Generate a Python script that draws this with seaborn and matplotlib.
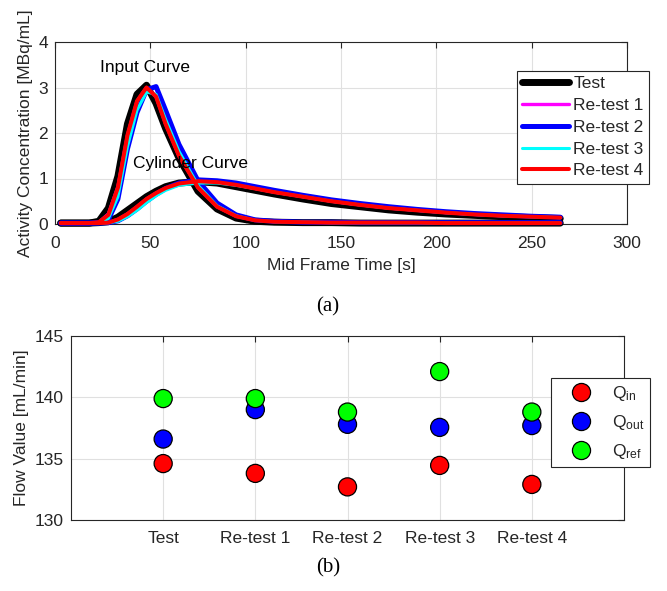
import numpy as np
import pandas as pd
import matplotlib
matplotlib.use("Agg")
import matplotlib.pyplot as plt
import seaborn as sns

# ---------------- data ----------------
time_s = [3, 8, 13, 18, 23, 28, 33, 38, 43, 48, 53, 58, 65, 75, 85, 95, 105, 115,
          130, 145, 160, 175, 190, 205, 220, 235, 250, 265]

series_names = ["Test", "Re-test 1", "Re-test 2", "Re-test 3", "Re-test 4"]

input_test = [0.02, 0.02, 0.02, 0.02, 0.06, 0.35, 1.05, 2.2, 2.85, 3.05, 2.65, 2.1, 1.45,
              0.72, 0.33, 0.13, 0.06, 0.04, 0.03, 0.03, 0.02, 0.02, 0.02, 0.02, 0.02, 0.02, 0.02, 0.02]
input_rt1 = [0.02, 0.02, 0.02, 0.02, 0.04, 0.22, 0.82, 1.95, 2.7, 3.0, 2.8, 2.2, 1.5,
             0.8, 0.38, 0.17, 0.08, 0.05, 0.04, 0.03, 0.03, 0.03, 0.03, 0.02, 0.02, 0.02, 0.02, 0.02]
input_rt2 = [0.02, 0.02, 0.02, 0.02, 0.03, 0.1, 0.55, 1.65, 2.45, 2.95, 3.02, 2.5, 1.75,
             0.95, 0.46, 0.2, 0.09, 0.06, 0.04, 0.04, 0.03, 0.03, 0.03, 0.03, 0.03, 0.03, 0.03, 0.03]
input_rt3 = [0.02, 0.02, 0.02, 0.02, 0.03, 0.12, 0.6, 1.7, 2.5, 2.9, 2.85, 2.3, 1.6,
             0.85, 0.4, 0.18, 0.08, 0.05, 0.04, 0.03, 0.03, 0.03, 0.03, 0.02, 0.02, 0.02, 0.02, 0.02]
input_rt4 = [0.02, 0.02, 0.02, 0.02, 0.04, 0.2, 0.8, 1.95, 2.7, 3.0, 2.8, 2.2, 1.5,
             0.8, 0.38, 0.17, 0.08, 0.05, 0.04, 0.03, 0.03, 0.03, 0.03, 0.02, 0.02, 0.02, 0.02, 0.02]

cyl_test = [0.02, 0.02, 0.02, 0.02, 0.03, 0.05, 0.15, 0.3, 0.45, 0.6, 0.72, 0.82, 0.9, 0.93,
            0.9, 0.82, 0.74, 0.66, 0.55, 0.45, 0.38, 0.31, 0.26, 0.22, 0.19, 0.16, 0.14, 0.12]
cyl_rt1 = [0.02, 0.02, 0.02, 0.02, 0.02, 0.03, 0.1, 0.22, 0.38, 0.55, 0.68, 0.79, 0.89, 0.94,
           0.92, 0.86, 0.78, 0.7, 0.6, 0.5, 0.42, 0.35, 0.3, 0.25, 0.21, 0.18, 0.16, 0.14]
cyl_rt2 = [0.02, 0.02, 0.02, 0.02, 0.02, 0.03, 0.07, 0.18, 0.33, 0.5, 0.65, 0.78, 0.9, 0.97,
           0.95, 0.9, 0.82, 0.74, 0.63, 0.53, 0.45, 0.38, 0.32, 0.27, 0.23, 0.2, 0.17, 0.15]
cyl_rt3 = [0.02, 0.02, 0.02, 0.02, 0.02, 0.03, 0.06, 0.16, 0.3, 0.47, 0.62, 0.74, 0.85, 0.9,
           0.9, 0.85, 0.78, 0.7, 0.6, 0.5, 0.42, 0.35, 0.3, 0.25, 0.21, 0.18, 0.16, 0.14]
cyl_rt4 = [0.02, 0.02, 0.02, 0.02, 0.02, 0.03, 0.1, 0.22, 0.38, 0.55, 0.68, 0.79, 0.89, 0.94,
           0.92, 0.86, 0.78, 0.7, 0.6, 0.5, 0.42, 0.35, 0.3, 0.25, 0.21, 0.18, 0.16, 0.14]

flow_categories = ["Test", "Re-test 1", "Re-test 2", "Re-test 3", "Re-test 4"]
q_in = [134.6, 133.8, 132.7, 134.45, 132.9]
q_out = [136.6, 139.0, 137.8, 137.55, 137.7]
q_ref = [139.9, 139.9, 138.8, 142.1, 138.8]

# ---------------- style ----------------
sns.set_theme(style="white")
plt.rcParams["font.family"] = ["Liberation Sans", "DejaVu Sans"]
plt.rcParams["mathtext.default"] = "regular"
TXT = "#262626"
FS = 12.5

fig = plt.figure(figsize=(6.67, 5.91), dpi=100)
ax1 = fig.add_axes([55 / 667, 1 - 224 / 591, 572 / 667, 182 / 591])
ax2 = fig.add_axes([71 / 667, 1 - 520 / 591, 553 / 667, 184 / 591])

line_colors = ["#000000", "#ff00ff", "#0000ff", "#00ffff", "#ff0000"]
line_widths = [5.0, 2.4, 3.6, 2.2, 2.9]
inputs = [input_test, input_rt1, input_rt2, input_rt3, input_rt4]
cyls = [cyl_test, cyl_rt1, cyl_rt2, cyl_rt3, cyl_rt4]

for i, name in enumerate(series_names):
    df_in = pd.DataFrame({"t": time_s, "v": inputs[i]})
    df_cy = pd.DataFrame({"t": time_s, "v": cyls[i]})
    sns.lineplot(data=df_in, x="t", y="v", ax=ax1, color=line_colors[i],
                 lw=line_widths[i], label=name, estimator=None, clip_on=False, zorder=3 + i)
    sns.lineplot(data=df_cy, x="t", y="v", ax=ax1, color=line_colors[i],
                 lw=line_widths[i], label="_nolegend_", estimator=None, clip_on=False, zorder=3 + i)

ax1.set_xlim(0, 300)
ax1.set_ylim(0, 4)
ax1.set_xticks(np.arange(0, 301, 50))
ax1.set_yticks(np.arange(0, 5, 1))
ax1.set_xlabel("Mid Frame Time [s]", fontsize=FS, color=TXT, labelpad=5)
ax1.set_ylabel("Activity Concentration [MBq/mL]", fontsize=FS, color=TXT, labelpad=4)
ax1.text(47, 3.45, "Input Curve", fontsize=FS, ha="center", va="center", color="black", zorder=10)
ax1.text(71, 1.32, "Cylinder Curve", fontsize=FS, ha="center", va="center", color="black", zorder=10)

leg1 = ax1.legend(loc="upper left", bbox_to_anchor=(517 / 667, 1 - 71 / 591),
                  bbox_transform=fig.transFigure, borderaxespad=0, fontsize=FS,
                  fancybox=False, framealpha=1, edgecolor=TXT, handlelength=2.7,
                  handletextpad=0.25, labelspacing=0.38, borderpad=0.3)
leg1.get_frame().set_linewidth(0.8)

# bottom panel
flow_df = pd.DataFrame({
    "pos": list(range(1, 6)) * 3,
    "val": q_in + q_out + q_ref,
    "kind": ["Q$_{in}$"] * 5 + ["Q$_{out}$"] * 5 + ["Q$_{ref}$"] * 5,
})
sns.scatterplot(data=flow_df, x="pos", y="val", hue="kind",
                palette=["#ff0000", "#0000ff", "#00ff00"], s=170,
                edgecolor="black", linewidth=0.9, ax=ax2, zorder=5)
ax2.set_xlim(0, 6)
ax2.set_ylim(130, 145)
ax2.set_xticks(range(1, 6))
ax2.set_xticklabels(flow_categories)
ax2.set_yticks([130, 135, 140, 145])
ax2.set_xlabel("")
ax2.set_ylabel("Flow Value [mL/min]", fontsize=FS, color=TXT, labelpad=4)

h, l = ax2.get_legend_handles_labels()
leg2 = ax2.legend(h, l, loc="upper left", bbox_to_anchor=(551 / 667, 1 - 378 / 591),
                  bbox_transform=fig.transFigure, borderaxespad=0, fontsize=FS,
                  fancybox=False, framealpha=1, edgecolor=TXT, handlelength=2.8,
                  handletextpad=0.35, labelspacing=0.58, borderpad=0.35, markerscale=1.0)
leg2.get_frame().set_linewidth(0.8)

for ax in (ax1, ax2):
    ax.grid(True, color="#e0e0e0", lw=0.8, zorder=0)
    ax.set_axisbelow(True)
    ax.tick_params(direction="in", length=4, width=0.8, colors=TXT, labelsize=FS,
                   top=True, right=True, labelcolor=TXT, pad=5)
    for sp in ax.spines.values():
        sp.set_color(TXT)
        sp.set_linewidth(0.8)
        sp.set_zorder(2)
ax1.tick_params(axis="x", pad=9)
ax2.tick_params(axis="x", pad=8)

fig.text(328 / 667, 1 - 307 / 591, "(a)", fontsize=15, ha="center", va="center",
         family=["Liberation Serif"], color="black")
fig.text(328 / 667, 1 - 568 / 591, "(b)", fontsize=15, ha="center", va="center",
         family=["Liberation Serif"], color="black")

fig.savefig("out.png", dpi=100)
